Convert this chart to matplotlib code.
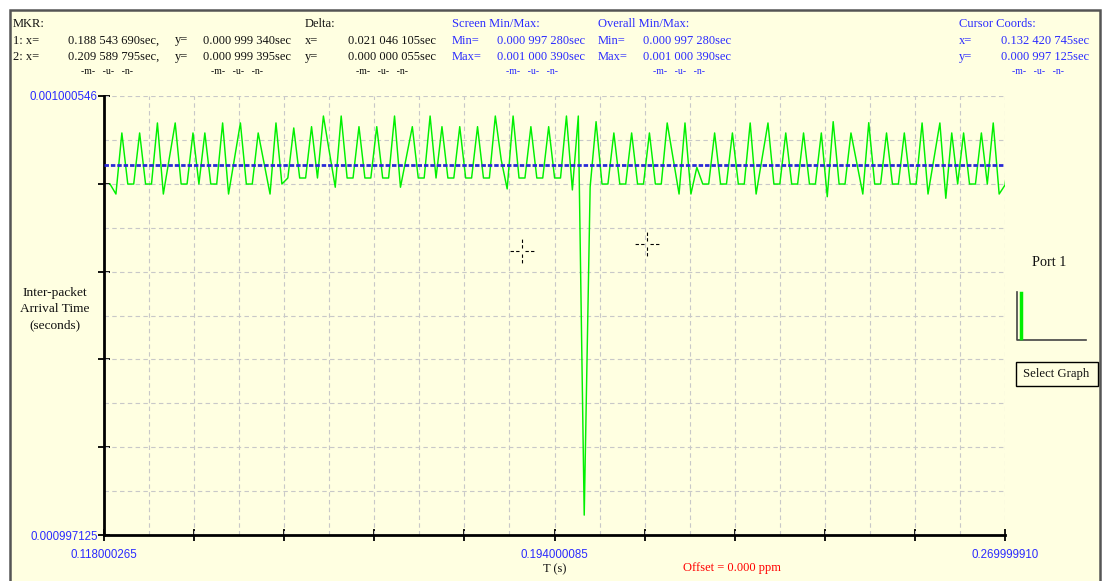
import numpy as np
import matplotlib
matplotlib.use('Agg')
import matplotlib.pyplot as plt
from matplotlib.patches import Rectangle
from matplotlib.lines import Line2D

plt.rcParams['font.family'] = ['Liberation Serif', 'DejaVu Serif']

# axis limits shown on screen
x_min, x_max = 0.118000265, 0.269999910
y_min, y_max = 0.000997125, 0.001000546

# inter-packet arrival times, microseconds, one per packet
iat_us = [
    999.860, 999.782, 1000.258, 999.860, 999.860, 1000.258, 999.860, 999.860,
    1000.336, 999.782, 1000.060, 1000.336, 999.860, 999.860, 1000.258, 999.860,
    1000.258, 999.860, 999.860, 1000.336, 999.782, 1000.060, 1000.336, 999.860,
    999.860, 1000.258, 1000.020, 999.782, 1000.336, 999.860, 999.907, 1000.297,
    999.907, 999.907, 1000.307, 999.907, 1000.390, 1000.114, 999.835, 1000.390,
    999.907, 999.907, 1000.307, 999.907, 999.907, 1000.307, 999.907, 999.907,
    1000.390, 999.835, 1000.071, 1000.307, 999.907, 999.907, 1000.390, 999.907,
    1000.307, 999.907, 999.907, 1000.307, 999.907, 999.907, 1000.307, 999.907,
    999.907, 1000.390, 1000.047, 999.822, 1000.390, 999.907, 999.907, 1000.307,
    999.907, 999.907, 1000.307, 999.907, 999.907, 1000.390, 999.814, 1000.390,
    997.280, 999.837, 1000.346, 999.860, 999.860, 1000.258, 999.860, 999.860,
    1000.258, 999.860, 999.860, 1000.258, 999.860, 999.860, 1000.336, 1000.060,
    999.782, 1000.336, 999.782, 999.990, 999.860, 999.860, 1000.258, 999.860,
    999.860, 1000.258, 999.860, 999.860, 1000.336, 999.782, 1000.060, 1000.336,
    999.860, 999.860, 1000.258, 999.860, 999.860, 1000.258, 999.860, 999.860,
    1000.258, 999.761, 1000.346, 999.860, 999.860, 1000.258, 1000.020, 999.782,
    1000.338, 999.860, 999.860, 1000.258, 999.860, 999.860, 1000.258, 999.860,
    999.860, 1000.336, 999.782, 1000.060, 1000.336, 999.749, 1000.258, 999.860,
    1000.258, 999.860, 999.860, 1000.258, 999.860, 1000.336, 999.782, 999.853,
    1000.258,
]
first_arrival = 0.119012  # s, time of first packet on screen
mean_iat = 0.0010000045   # blue dotted reference line

# markers 1 and 2 (cursor crosshairs)
mkr_x = [0.188543690, 0.209589795]
mkr_y = [0.000999340, 0.000999395]

x_tick_labels = ['0.118000265', '', '', '', '', '0.194000085', '', '', '', '', '0.269999910']
y_tick_labels = ['0.000997125', '', '', '', '', '0.001000546']

# header readout text: (text, x px, y px)
hdr_black = [
    ('MKR:', 13, 24), ('1: x=', 13, 40.5), ('2: x=', 13, 57),
    ('0.188 543 690sec,', 68, 40.5), ('0.209 589 795sec,', 68, 57),
    ('y=', 175, 40.5), ('y=', 175, 57),
    ('0.000 999 340sec', 203, 40.5), ('0.000 999 395sec', 203, 57),
    ('Delta:', 305, 24), ('x=', 305, 40.5), ('y=', 305, 57),
    ('0.021 046 105sec', 348, 40.5), ('0.000 000 055sec', 348, 57),
]
hdr_blue = [
    ('Screen Min/Max:', 452, 24), ('Min=', 452, 40.5), ('Max=', 452, 57),
    ('0.000 997 280sec', 497, 40.5), ('0.001 000 390sec', 497, 57),
    ('Overall Min/Max:', 598, 24), ('Min=', 598, 40.5), ('Max=', 598, 57),
    ('0.000 997 280sec', 643, 40.5), ('0.001 000 390sec', 643, 57),
    ('Cursor Coords:', 959, 24), ('x=', 959, 40.5), ('y=', 959, 57),
    ('0.132 420 745sec', 1001, 40.5), ('0.000 997 125sec', 1001, 57),
]
unit_cols_black = [81, 211, 356]
unit_cols_blue = [506, 653, 1012]

W, H = 1102, 581
BG = '#FFFFE1'
BLUE = '#2b2bff'
FS = 9

fig = plt.figure(figsize=(W / 100, H / 100), dpi=100)
fig.patch.set_facecolor('white')

def fx(px):
    return px / W

def fy(py):
    return 1 - py / H

# beige panel with dark inset border
fig.add_artist(Rectangle((fx(9.5), fy(590)), fx(1090), 580 / H, transform=fig.transFigure,
                         facecolor=BG, edgecolor='#555555', lw=1.8, zorder=-5))

ax = fig.add_axes([fx(104), fy(535), fx(901), 439 / H])
ax.set_facecolor(BG)
ax.set_xlim(x_min, x_max)
ax.set_ylim(y_min, y_max)

# packet arrival times from the inter-packet gaps
iat = np.array(iat_us) * 1e-6
t = first_arrival + np.concatenate([[0], np.cumsum(iat[1:])])

ax.plot(t, iat, color='#00f000', lw=1.05, zorder=3)
ax.axhline(mean_iat, color='#2a2ad6', lw=2.0, linestyle=(0, (1.6, 0.7)), zorder=4)

# crosshair cursors
ax_x = (x_max - x_min) / 901
ax_y = (y_max - y_min) / 439
for cx, cy in zip(mkr_x, mkr_y):
    for sgn in (-1, 1):
        ax.plot([cx + sgn * 3 * ax_x, cx + sgn * 12 * ax_x], [cy, cy], color='black', lw=0.8,
                linestyle=(0, (3, 2)), zorder=5)
        ax.plot([cx, cx], [cy + sgn * 3 * ax_y, cy + sgn * 12 * ax_y], color='black', lw=0.8,
                linestyle=(0, (3, 2)), zorder=5)

# grid and ticks
ax.xaxis.remove_overlapping_locs = False
ax.yaxis.remove_overlapping_locs = False
ax.set_xticks(np.linspace(x_min, x_max, 11))
ax.set_xticklabels(x_tick_labels)
ax.set_yticks(np.linspace(y_min, y_max, 6))
ax.set_yticklabels(y_tick_labels)
ax.set_xticks(np.linspace(x_min, x_max, 21), minor=True)
ax.set_yticks(np.linspace(y_min, y_max, 11), minor=True)
ax.grid(which='minor', color='#c8c8c8', linestyle=(0, (4, 3)), lw=0.8)
ax.tick_params(which='minor', length=0)
ax.tick_params(which='major', direction='inout', length=8, width=1.3, color='black',
               labelcolor=BLUE, labelsize=8.3)
ax.tick_params(axis='x', which='major', pad=6)
ax.tick_params(axis='y', which='major', pad=0.5)
for lbl in ax.get_xticklabels() + ax.get_yticklabels():
    lbl.set_family(['Liberation Sans', 'DejaVu Sans'])
for s in ['top', 'right']:
    ax.spines[s].set_visible(False)
for s in ['left', 'bottom']:
    ax.spines[s].set_linewidth(2)
ax.set_axisbelow(True)

# header
for txt, x, y in hdr_black:
    fig.text(fx(x), fy(y), txt, fontsize=FS, color='#111111', va='center', ha='left')
for txt, x, y in hdr_blue:
    fig.text(fx(x), fy(y), txt, fontsize=FS, color=BLUE, va='center', ha='left')
for x in unit_cols_black:
    fig.text(fx(x), fy(72), '-m-   -u-   -n-', fontsize=7, color='#111111', va='center')
for x in unit_cols_blue:
    fig.text(fx(x), fy(72), '-m-   -u-   -n-', fontsize=7, color=BLUE, va='center')

# axis titles
fig.text(fx(55), fy(309), 'Inter-packet\nArrival Time\n(seconds)', fontsize=9.6,
         ha='center', va='center', linespacing=1.45, color='#111111')
fig.text(fx(555), fy(569), 'T (s)', fontsize=FS, ha='center', va='center', color='#111111')
fig.text(fx(732), fy(568), 'Offset = 0.000 ppm', fontsize=FS, ha='center', va='center', color='red')

# right-hand port panel
fig.text(fx(1049), fy(262), 'Port 1', fontsize=10.3, ha='center', va='center', color='#111111')
fig.add_artist(Line2D([fx(1016.5), fx(1016.5), fx(1086)], [fy(292), fy(339.5), fy(339.5)],
                      color='#444444', lw=1.2, transform=fig.transFigure))
fig.add_artist(Line2D([fx(1020.5), fx(1020.5)], [fy(293), fy(338)], color='#00ee00', lw=2.5,
                      transform=fig.transFigure))
fig.add_artist(Rectangle((fx(1015.5), fy(386)), fx(82), 24 / H, transform=fig.transFigure,
                         facecolor=BG, edgecolor='black', lw=1.0))
fig.text(fx(1056), fy(374), 'Select Graph', fontsize=9.2, ha='center', va='center', color='#111111')

plt.savefig('out.png', dpi=100, facecolor=fig.get_facecolor())
